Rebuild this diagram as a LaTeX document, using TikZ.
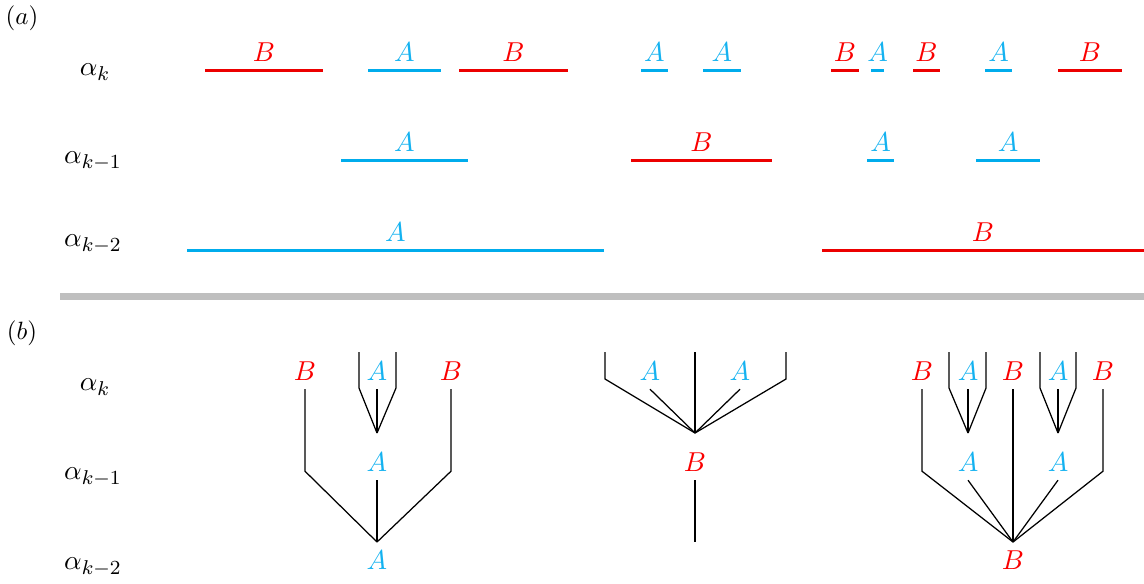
\documentclass[tikz,border=0pt]{standalone}
\definecolor{segblue}{RGB}{0,172,236}
\definecolor{segred}{RGB}{236,0,0}
\definecolor{txtblue}{RGB}{20,178,240}
\definecolor{txtred}{RGB}{250,0,0}
\tikzset{
  seg/.style={line width=1.2pt},
  lbl/.style={font=\fontsize{11}{13}\selectfont},
  lvl/.style={font=\fontsize{11}{13}\selectfont},
  edge/.style={line width=0.5pt},
}
\begin{document}
\begin{tikzpicture}[x=0.4pt,y=-0.4pt]
  \useasboundingbox (0,0) rectangle (1144,583);
  % (a): intervals on three levels
  \begin{scope}
    \node (la) at (22,18) {$(a)$};
    \node[lvl] (ak) at (95,72) {$\alpha_k$};
    \node[lvl] (ak1) at (93,161) {$\alpha_{k-1}$};
    \node[lvl] (ak2) at (93,244) {$\alpha_{k-2}$};
    \foreach \xa/\xb/\y/\c/\tc/\t [count=\i] in {
        205/323/70/segred/txtred/B, 368/441/70/segblue/txtblue/A,
        459/568/70/segred/txtred/B, 641/668/70/segblue/txtblue/A,
        703/741/70/segblue/txtblue/A, 831/859/70/segred/txtred/B,
        871/884/70/segblue/txtblue/A, 913/940/70/segred/txtred/B,
        985/1012/70/segblue/txtblue/A, 1058/1122/70/segred/txtred/B,
        341/468/160/segblue/txtblue/A, 631/772/160/segred/txtred/B,
        867/894/160/segblue/txtblue/A, 976/1040/160/segblue/txtblue/A,
        187/604/250/segblue/txtblue/A, 822/1144/250/segred/txtred/B} {
      \draw[seg,\c] (\xa,\y) -- (\xb,\y);
      \node[lbl,text=\tc] (s\i) at ({(\xa+\xb)/2},\y-18) {$\t$};
    }
  \end{scope}
  \draw[line width=2.8pt,black!25] (60,296) -- (1144,296);
  % (b): the same as trees
  \begin{scope}
    \node (lb) at (22,333) {$(b)$};
    \node[lvl] (bk) at (95,387) {$\alpha_k$};
    \node[lvl] (bk1) at (93,477) {$\alpha_{k-1}$};
    \node[lvl] (bk2) at (93,567) {$\alpha_{k-2}$};
    % tree 1
    \node[lbl,text=txtred] (t1k1) at (305,371) {$B$};
    \node[lbl,text=txtblue] (t1k2) at (377,371) {$A$};
    \node[lbl,text=txtred] (t1k3) at (451,371) {$B$};
    \node[lbl,text=txtblue] (t1m) at (377,462) {$A$};
    \node[lbl,text=txtblue] (t1b) at (377,560) {$A$};
    \coordinate (t1u1) at (359,352);
    \coordinate (t1u2) at (396,352);
    \coordinate (t1j) at (377,433);
    \coordinate (t1r) at (377,542);
    \draw[edge] (t1u1) -- ++(0,36) -- (t1j);
    \draw[edge] (t1u2) -- ++(0,36) -- (t1j);
    \draw[edge] (t1k2.south) -- (t1j);
    \draw[edge] (t1k1.south) -- ++(0,82) -- (t1r);
    \draw[edge] (t1k3.south) -- ++(0,82) -- (t1r);
    \draw[edge] (t1m.south) -- (t1r);
    % tree 2
    \node[lbl,text=txtblue] (t2k1) at (650,371) {$A$};
    \node[lbl,text=txtblue] (t2k2) at (740,371) {$A$};
    \node[lbl,text=txtred] (t2m) at (695,462) {$B$};
    \coordinate (t2u1) at (605,352);
    \coordinate (t2u2) at (695,352);
    \coordinate (t2u3) at (786,352);
    \coordinate (t2j) at (695,433);
    \coordinate (t2e) at (695,542);
    \draw[edge] (t2u1) -- ++(0,27) -- (t2j);
    \draw[edge] (t2u3) -- ++(0,27) -- (t2j);
    \draw[edge] (t2u2) -- (t2j);
    \draw[edge] (t2k1.south) -- (t2j);
    \draw[edge] (t2k2.south) -- (t2j);
    \draw[edge] (t2m.south) -- (t2e);
    % tree 3
    \node[lbl,text=txtred] (t3k1) at (922,371) {$B$};
    \node[lbl,text=txtblue] (t3k2) at (968,371) {$A$};
    \node[lbl,text=txtred] (t3k3) at (1013,371) {$B$};
    \node[lbl,text=txtblue] (t3k4) at (1058,371) {$A$};
    \node[lbl,text=txtred] (t3k5) at (1103,371) {$B$};
    \node[lbl,text=txtblue] (t3m1) at (968,462) {$A$};
    \node[lbl,text=txtblue] (t3m2) at (1058,462) {$A$};
    \node[lbl,text=txtred] (t3b) at (1013,560) {$B$};
    \coordinate (t3u1) at (949,352);
    \coordinate (t3u2) at (986,352);
    \coordinate (t3u3) at (1040,352);
    \coordinate (t3u4) at (1076,352);
    \coordinate (t3j1) at (968,433);
    \coordinate (t3j2) at (1058,433);
    \coordinate (t3r) at (1013,542);
    \draw[edge] (t3u1) -- ++(0,36) -- (t3j1);
    \draw[edge] (t3u2) -- ++(0,36) -- (t3j1);
    \draw[edge] (t3k2.south) -- (t3j1);
    \draw[edge] (t3u3) -- ++(0,36) -- (t3j2);
    \draw[edge] (t3u4) -- ++(0,36) -- (t3j2);
    \draw[edge] (t3k4.south) -- (t3j2);
    \draw[edge] (t3k1.south) -- ++(0,82) -- (t3r);
    \draw[edge] (t3k5.south) -- ++(0,82) -- (t3r);
    \draw[edge] (t3k3.south) -- (t3r);
    \draw[edge] (t3m1.south) -- (t3r);
    \draw[edge] (t3m2.south) -- (t3r);
  \end{scope}
\end{tikzpicture}
\end{document}
